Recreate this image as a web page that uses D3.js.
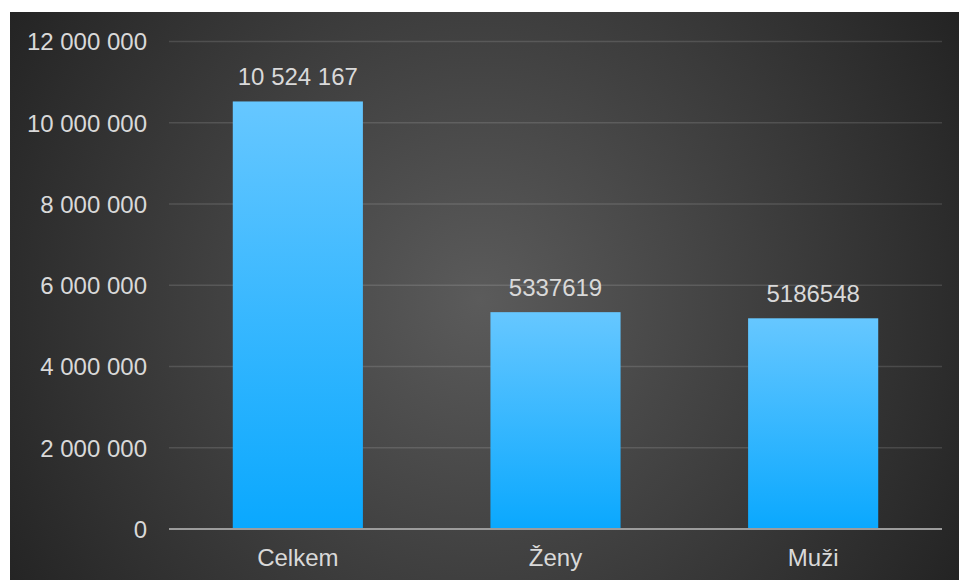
<!DOCTYPE html>
<html>
<head>
<meta charset="utf-8">
<script src="https://cdn.jsdelivr.net/npm/d3@7"></script>
<style>
  body { margin: 0; background: #ffffff; }
  .chart text { font-family: "Liberation Sans", Arial, sans-serif; fill: #d9d9d9; }
</style>
</head>
<body>
<div class="chart"></div>
<script>
const categories = ['Celkem', 'Ženy', 'Muži'];
const values = [10524167, 5337619, 5186548];
const valueLabels = ['10 524 167', '5337619', '5186548'];
const yTicks = [0, 2000000, 4000000, 6000000, 8000000, 10000000, 12000000];

function renderBarChart() {
    const W = 959, H = 580;
    const margin = ({top: 41.5, right: 17, bottom: 51, left: 169});
    const width = W - margin.left - margin.right;
    const height = H - margin.top - margin.bottom;
    const fontSize = 24;

    const svg = d3.select('.chart').append('svg')
        .attr('width', W)
        .attr('height', H);

    const defs = svg.append('defs');
    const bg = defs.append('radialGradient')
        .attr('id', 'bg')
        .attr('gradientUnits', 'userSpaceOnUse')
        .attr('cx', 480).attr('cy', 300).attr('r', 560);
    bg.append('stop').attr('offset', '0%').attr('stop-color', '#5b5b5b');
    bg.append('stop').attr('offset', '100%').attr('stop-color', '#232323');

    const barGrad = defs.append('linearGradient')
        .attr('id', 'bar')
        .attr('x1', 0).attr('y1', 0).attr('x2', 0).attr('y2', 1);
    barGrad.append('stop').attr('offset', '0%').attr('stop-color', '#66c7ff');
    barGrad.append('stop').attr('offset', '100%').attr('stop-color', '#0aa8fe');

    svg.append('rect')
        .attr('x', 10).attr('y', 12)
        .attr('width', W - 10).attr('height', H - 12)
        .attr('fill', 'url(#bg)');

    const g = svg.append('g')
        .attr('transform', `translate(${margin.left},${margin.top})`);

    const xScale = d3.scaleBand()
        .domain(categories)
        .range([0, width])
        .paddingInner(0.495)
        .paddingOuter(0.2475);

    const yScale = d3.scaleLinear()
        .domain([0, 12000000])
        .range([height, 0]);

    const fmt = v => d3.format(',')(v).replace(/,/g, '\u00a0');

    // gridlines
    g.append('g').selectAll('line')
        .data(yTicks.filter(d => d > 0))
        .enter()
        .append('line')
        .attr('x1', 0).attr('x2', width)
        .attr('y1', d => yScale(d)).attr('y2', d => yScale(d))
        .attr('stroke', 'rgba(255,255,255,0.13)')
        .attr('stroke-width', 1.3);

    // y axis labels
    const yAxis = d3.axisLeft(yScale)
        .tickValues(yTicks)
        .tickFormat(fmt)
        .tickSize(0)
        .tickPadding(22);
    g.append('g')
        .attr('class', 'axis y-axis')
        .call(yAxis)
        .call(s => s.select('.domain').remove())
        .selectAll('text')
        .attr('font-size', fontSize)
        .attr('dy', '0.35em');

    // bars
    g.append('g').selectAll('rect')
        .data(values)
        .enter()
        .append('rect')
        .attr('x', (d, i) => xScale(categories[i]))
        .attr('y', d => yScale(d))
        .attr('width', xScale.bandwidth())
        .attr('height', d => height - yScale(d))
        .attr('fill', 'url(#bar)');

    // value labels
    g.append('g').selectAll('text')
        .data(values)
        .enter()
        .append('text')
        .attr('x', (d, i) => xScale(categories[i]) + xScale.bandwidth() / 2)
        .attr('y', d => yScale(d) - 16)
        .attr('text-anchor', 'middle')
        .attr('font-size', fontSize)
        .text((d, i) => valueLabels[i]);

    // baseline
    g.append('line')
        .attr('x1', 0).attr('x2', width)
        .attr('y1', height).attr('y2', height)
        .attr('stroke', '#9c9c9c')
        .attr('stroke-width', 2);

    // x axis labels
    const xAxis = d3.axisBottom(xScale).tickSize(0).tickPadding(0);
    g.append('g')
        .attr('class', 'axis x-axis')
        .attr('transform', `translate(0,${height})`)
        .call(xAxis)
        .call(s => s.select('.domain').remove())
        .selectAll('text')
        .attr('font-size', fontSize)
        .attr('dy', 0)
        .attr('y', 37);

    svg.selectAll('.axis text')
        .attr('fill', '#d9d9d9')
        .attr('font-family', '"Liberation Sans", Arial, sans-serif');
}

renderBarChart();
</script>
</body>
</html>
